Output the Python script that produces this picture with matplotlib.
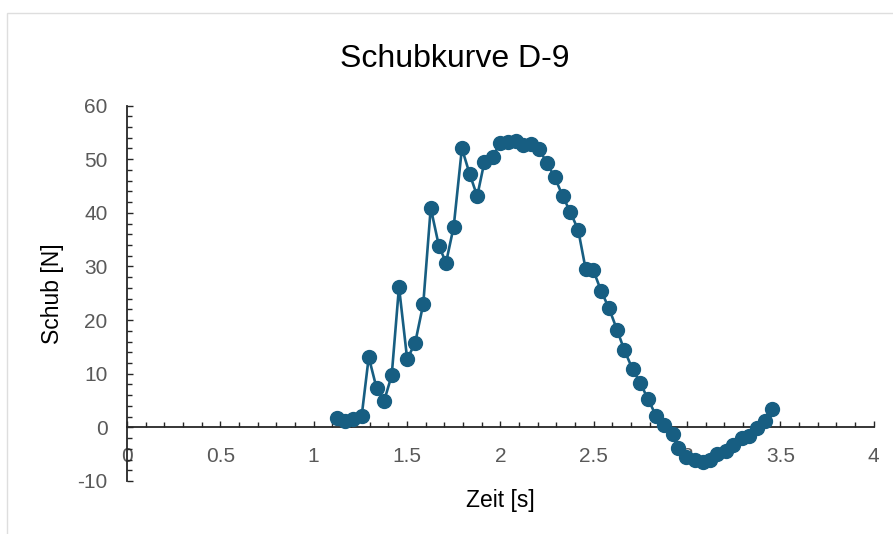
import numpy as np
import matplotlib
matplotlib.use("Agg")
import matplotlib.pyplot as plt
from matplotlib.patches import Rectangle
from matplotlib.ticker import MultipleLocator

plt.rcParams['font.family'] = ['Liberation Sans', 'DejaVu Sans']
plt.rcParams['axes.unicode_minus'] = False

# Zeit [s] und Schub [N]
zeit = [1.123, 1.168, 1.212, 1.257, 1.295, 1.337, 1.378, 1.418, 1.457, 1.501,
        1.544, 1.587, 1.627, 1.671, 1.709, 1.750, 1.794, 1.836, 1.876, 1.914,
        1.959, 1.999, 2.039, 2.082, 2.123, 2.166, 2.208, 2.250, 2.292, 2.334,
        2.374, 2.417, 2.457, 2.498, 2.539, 2.582, 2.626, 2.664, 2.709, 2.749,
        2.792, 2.835, 2.878, 2.923, 2.953, 2.994, 3.042, 3.084, 3.123, 3.162,
        3.207, 3.247, 3.292, 3.332, 3.376, 3.417, 3.456]
schub = [1.7, 1.2, 1.6, 2.1, 13.1, 7.3, 5.0, 9.7, 26.2, 12.7,
         15.8, 23.0, 40.9, 33.8, 30.7, 37.4, 52.0, 47.2, 43.1, 49.4,
         50.4, 53.1, 53.2, 53.4, 52.7, 52.8, 51.9, 49.2, 46.6, 43.1,
         40.2, 36.8, 29.5, 29.3, 25.5, 22.2, 18.1, 14.4, 10.8, 8.3,
         5.2, 2.1, 0.4, -1.3, -3.9, -5.6, -6.0, -6.5, -6.1, -5.0,
         -4.4, -3.2, -1.9, -1.6, -0.2, 1.2, 3.4]

W, H = 893, 534
fig = plt.figure(figsize=(W / 100, H / 100), dpi=100)
ax = fig.add_axes([127 / W, 1 - 481 / H, 746.7 / W, 375.5 / H])

farbe = '#175e82'
ax.plot(zeit, schub, color=farbe, lw=1.9, marker='o', ms=10,
        markerfacecolor=farbe, markeredgecolor=farbe, zorder=3)

ax.set_xlim(0, 4)
ax.set_ylim(-10, 60)
ax.xaxis.set_major_locator(MultipleLocator(0.5))
ax.xaxis.set_minor_locator(MultipleLocator(0.1))
ax.yaxis.set_major_locator(MultipleLocator(10))
ax.yaxis.set_minor_locator(MultipleLocator(2))
ax.xaxis.set_major_formatter(plt.FuncFormatter(lambda v, p: f"{v:g}"))

ax.spines['left'].set_position(('data', 0))
ax.spines['bottom'].set_position(('data', 0))
ax.spines['top'].set_visible(False)
ax.spines['right'].set_visible(False)
for s in ('left', 'bottom'):
    ax.spines[s].set_linewidth(1.3)
    ax.spines[s].set_color('#262626')

ax.tick_params(which='both', direction='in', color='#262626', width=1.0,
               labelsize=15, labelcolor='#595959', pad=14)
ax.tick_params(which='major', length=4.5)
ax.tick_params(which='minor', length=3.6)

fig.text(455 / W, 1 - 66.7 / H, 'Schubkurve D-9', fontsize=23,
         ha='center', va='baseline', color='black')
fig.text(500 / W, 1 - 500 / H, 'Zeit [s]', fontsize=16.5,
         ha='center', va='center', color='black')
fig.text(53 / W, 1 - 294 / H, 'Schub [N]', fontsize=16.5, rotation=90,
         ha='center', va='center', color='black')

fig.add_artist(Rectangle((6.5 / W, -0.1), 1.2, 1.1 - 13.5 / H,
                         transform=fig.transFigure, fill=False,
                         edgecolor='#dedede', lw=1.0))

fig.savefig('out.png', dpi=100)
